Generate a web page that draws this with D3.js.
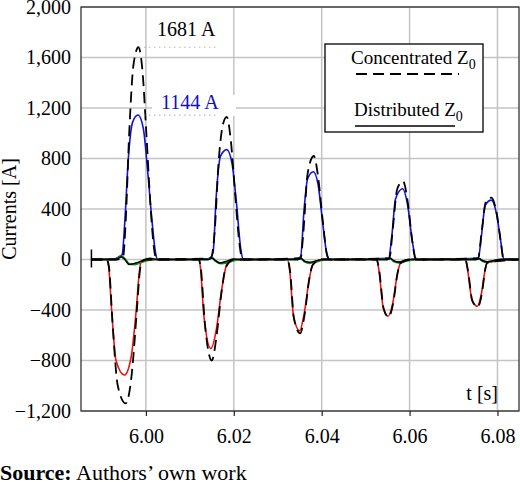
<!DOCTYPE html>
<html>
<head>
<meta charset="utf-8">
<script src="https://cdn.jsdelivr.net/npm/d3@7"></script>
<style>
body { margin: 0; background: #fff; }
svg text { font-family: "Liberation Serif", "Times New Roman", serif; }
</style>
</head>
<body>
<svg id="chart" width="520" height="485"></svg>
<script>
// time axis
var xTicks = [6.00, 6.02, 6.04, 6.06, 6.08];
var yTicks = [-1200, -800, -400, 0, 400, 800, 1200, 1600, 2000];

// distributed Z0, positive current (blue)
var bluePos = [
  [5.9876,0],[5.9930,5],[5.9940,25],[5.9946,40],[5.9952,300],[5.9960,800],[5.9970,1090],[5.9982,1144],[5.9994,1040],[6.0004,700],[6.0014,300],[6.0022,50],[6.0027,0],
  [6.0140,5],[6.0148,20],[6.0153,60],[6.0160,500],[6.0170,820],[6.0184,870],[6.0196,760],[6.0206,450],[6.0216,80],[6.0222,0],
  [6.0340,5],[6.0352,20],[6.0360,400],[6.0368,640],[6.0381,695],[6.0392,590],[6.0402,300],[6.0412,40],[6.0418,0],
  [6.0552,10],[6.0560,200],[6.0568,480],[6.0584,560],[6.0596,420],[6.0606,150],[6.0614,10],[6.0618,0],
  [6.0756,10],[6.0764,200],[6.0772,430],[6.0786,470],[6.0798,360],[6.0808,130],[6.0814,5],[6.0849,0]
];
// concentrated Z0, positive current (black dashed)
var dashPos = [
  [5.9876,0],[5.9935,0],[5.9948,20],[5.9954,300],[5.9962,1000],[5.9972,1550],[5.9983,1681],[5.9992,1500],[6.0001,1000],[6.0010,450],[6.0018,100],[6.0024,0],
  [6.0148,10],[6.0156,200],[6.0166,800],[6.0176,1080],[6.0184,1130],[6.0193,950],[6.0203,520],[6.0213,120],[6.0220,0],
  [6.0352,10],[6.0358,200],[6.0368,680],[6.0382,820],[6.0392,650],[6.0402,320],[6.0412,40],[6.0418,0],
  [6.0554,10],[6.0562,250],[6.0572,560],[6.0585,620],[6.0596,450],[6.0606,150],[6.0614,0],
  [6.0756,10],[6.0764,220],[6.0774,460],[6.0786,490],[6.0798,370],[6.0808,130],[6.0814,0],[6.0849,0]
];
// distributed Z0, negative current (red)
var redNeg = [
  [5.9876,0],[5.9910,0],[5.9915,-50],[5.9922,-400],[5.9932,-800],[5.9951,-915],[5.9966,-780],[5.9978,-400],[5.9985,-100],[5.9989,-20],[6.0000,0],
  [6.0120,0],[6.0124,-60],[6.0132,-450],[6.0148,-705],[6.0160,-560],[6.0172,-250],[6.0182,-60],[6.0186,-20],[6.0200,0],
  [6.0322,0],[6.0327,-80],[6.0336,-450],[6.0350,-565],[6.0360,-430],[6.0372,-150],[6.0380,-40],[6.0400,0],
  [6.0525,0],[6.0530,-80],[6.0540,-380],[6.0551,-450],[6.0562,-340],[6.0572,-120],[6.0579,-30],[6.0600,0],
  [6.0727,0],[6.0732,-80],[6.0742,-320],[6.0754,-370],[6.0764,-260],[6.0772,-80],[6.0777,-25],[6.0849,0]
];
// concentrated Z0, negative current (black dashed)
var dashNeg = [
  [5.9876,0],[5.9911,0],[5.9916,-60],[5.9924,-500],[5.9936,-1000],[5.9954,-1140],[5.9968,-900],[5.9979,-420],[5.9986,-100],[5.9990,-20],[6.0000,0],
  [6.0120,0],[6.0125,-70],[6.0134,-500],[6.0150,-800],[6.0161,-600],[6.0172,-260],[6.0182,-60],[6.0200,0],
  [6.0322,0],[6.0328,-90],[6.0337,-470],[6.0351,-585],[6.0361,-440],[6.0372,-150],[6.0380,-40],[6.0400,0],
  [6.0525,0],[6.0531,-90],[6.0541,-390],[6.0552,-455],[6.0563,-340],[6.0572,-120],[6.0579,-30],[6.0600,0],
  [6.0727,0],[6.0733,-90],[6.0743,-330],[6.0755,-375],[6.0765,-260],[6.0772,-80],[6.0777,-25],[6.0849,0]
];
// small residual currents (green, distributed / black, concentrated)
var greenRes = [
  [5.9876,0],[5.9930,0],[5.9945,25],[5.9952,5],[5.9962,-35],[5.9975,-38],[5.9990,-20],[6.0005,-5],[6.0020,0],
  [6.0140,0],[6.0150,15],[6.0158,-10],[6.0170,-30],[6.0185,-25],[6.0200,-8],[6.0215,0],
  [6.0345,0],[6.0352,10],[6.0360,-15],[6.0372,-28],[6.0385,-20],[6.0400,-5],[6.0415,0],
  [6.0548,0],[6.0556,10],[6.0564,-15],[6.0575,-25],[6.0588,-15],[6.0605,-3],[6.0615,0],
  [6.0750,0],[6.0758,8],[6.0766,-12],[6.0776,-22],[6.0790,-12],[6.0805,-3],[6.0815,0],[6.0849,0]
];
var blackRes = [
  [5.9876,0],[5.9932,0],[5.9944,20],[5.9952,0],[5.9962,-40],[5.9975,-30],[5.9995,-5],[6.0010,10],[6.0025,0],
  [6.0142,0],[6.0150,12],[6.0158,-8],[6.0168,-28],[6.0182,-15],[6.0200,5],[6.0215,0],
  [6.0346,0],[6.0353,8],[6.0362,-15],[6.0372,-22],[6.0388,-10],[6.0405,3],[6.0418,0],
  [6.0548,0],[6.0556,8],[6.0565,-12],[6.0576,-20],[6.0590,-8],[6.0608,3],[6.0618,0],
  [6.0750,0],[6.0758,6],[6.0767,-10],[6.0777,-18],[6.0792,-8],[6.0808,2],[6.0849,0]
];

var svg = d3.select("#chart");
var plotL = 81, plotR = 519, plotT = 7, plotB = 411;
var serif = "Liberation Serif";

var x = d3.scaleLinear().domain([5.98523, 6.0849]).range([plotL, plotR]);
var y = d3.scaleLinear().domain([-1200, 2000]).range([plotB, plotT]);

// grid
svg.append("g").selectAll("line").data(xTicks).enter().append("line")
  .attr("x1", d => x(d)).attr("x2", d => x(d)).attr("y1", plotT).attr("y2", plotB)
  .attr("stroke", "#c4c4c4").attr("stroke-width", 1.5);
svg.append("g").selectAll("line").data(yTicks).enter().append("line")
  .attr("x1", plotL).attr("x2", plotR).attr("y1", d => y(d)).attr("y2", d => y(d))
  .attr("stroke", "#c4c4c4").attr("stroke-width", 1.5);

// white patch behind the 1144 A label
svg.append("rect").attr("x", 152).attr("y", 95).attr("width", 84).attr("height", 21).attr("fill", "#fff");

// frame
svg.append("rect").attr("x", plotL).attr("y", plotT).attr("width", plotR - plotL).attr("height", plotB - plotT)
  .attr("fill", "none").attr("stroke", "#222").attr("stroke-width", 1.2);

// x axis
var xAxis = d3.axisBottom(x).tickValues(xTicks).tickFormat(d3.format(".2f")).tickSize(5).tickSizeOuter(0);
var gx = svg.append("g").attr("transform", "translate(0," + plotB + ")").call(xAxis)
  .attr("font-family", serif).attr("font-size", 20);
gx.select(".domain").remove();
gx.selectAll("line").attr("stroke", "#222").attr("stroke-width", 1.2);
gx.selectAll("text").attr("dy", "1.2em").attr("fill", "#000");

// y axis
var yAxis = d3.axisLeft(y).tickValues(yTicks).tickSize(0).tickPadding(10)
  .tickFormat(d => d3.format(",")(d).replace("-", "\u2212"));
var gy = svg.append("g").attr("transform", "translate(" + plotL + ",0)").call(yAxis)
  .attr("font-family", serif).attr("font-size", 20);
gy.select(".domain").remove();
gy.selectAll("text").attr("fill", "#000");

svg.append("text").attr("transform", "translate(16," + y(400) + ") rotate(-90)")
  .attr("text-anchor", "middle").attr("font-size", 20).text("Currents [A]");
svg.append("text").attr("x", 498).attr("y", 400).attr("text-anchor", "end").attr("font-size", 20).text("t [s]");

// traces
var line = d3.line().x(d => x(d[0])).y(d => y(d[1])).curve(d3.curveMonotoneX);
function trace(data, color, width, dash) {
  svg.append("path").datum(data).attr("d", line).attr("fill", "none")
    .attr("stroke", color).attr("stroke-width", width)
    .attr("stroke-dasharray", dash || null);
}
trace(bluePos, "#1010e0", 1.6);
trace(redNeg, "#ee1010", 1.6);
trace(greenRes, "#1a8a1a", 2.2);
trace(blackRes, "#000", 1.4);
trace(dashPos, "#000", 1.8, "11,6");
trace(dashNeg, "#000", 1.8, "11,6");

// start marker
svg.append("line").attr("x1", x(5.9876)).attr("x2", x(5.9876)).attr("y1", y(0) - 10).attr("y2", y(0) + 8)
  .attr("stroke", "#000").attr("stroke-width", 1.5);

// peak annotations
svg.append("line").attr("x1", x(5.9985)).attr("x2", 216).attr("y1", y(1681)).attr("y2", y(1681))
  .attr("stroke", "#999").attr("stroke-width", 1.2).attr("stroke-dasharray", "1,4");
svg.append("text").attr("x", 157).attr("y", 36).attr("font-size", 20).text("1681 A");
svg.append("line").attr("x1", x(5.9985)).attr("x2", 218).attr("y1", y(1144)).attr("y2", y(1144))
  .attr("stroke", "#999").attr("stroke-width", 1.2).attr("stroke-dasharray", "1,4");
svg.append("text").attr("x", 161).attr("y", 109).attr("font-size", 20).attr("fill", "#1010c0").text("1144 A");

// legend
var lg = svg.append("g");
lg.append("rect").attr("x", 325).attr("y", 44).attr("width", 158).attr("height", 88)
  .attr("fill", "#fff").attr("stroke", "#000").attr("stroke-width", 1.3);
var t1 = lg.append("text").attr("x", 351).attr("y", 64).attr("font-size", 19).text("Concentrated Z");
t1.append("tspan").attr("font-size", 14).attr("dy", 5).text("0");
lg.append("line").attr("x1", 356).attr("x2", 459).attr("y1", 74).attr("y2", 74)
  .attr("stroke", "#000").attr("stroke-width", 1.8).attr("stroke-dasharray", "11,6");
var t2 = lg.append("text").attr("x", 354).attr("y", 116).attr("font-size", 19).text("Distributed Z");
t2.append("tspan").attr("font-size", 14).attr("dy", 5).text("0");
lg.append("line").attr("x1", 355).attr("x2", 455).attr("y1", 126).attr("y2", 126)
  .attr("stroke", "#000").attr("stroke-width", 1.5);

// source line
var src = svg.append("text").attr("x", 0).attr("y", 480).attr("font-size", 22);
src.append("tspan").attr("font-weight", "bold").text("Source:");
src.append("tspan").text(" Authors\u2019 own work");
</script>
</body>
</html>
